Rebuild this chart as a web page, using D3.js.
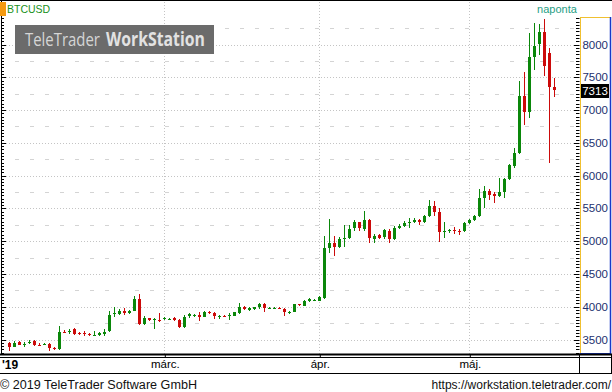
<!DOCTYPE html>
<html><head><meta charset="utf-8">
<script src="https://cdn.jsdelivr.net/npm/d3@7"></script>
<style>html,body{margin:0;padding:0;background:#fff;}svg{display:block;}</style>
</head><body>
<svg id="c" width="612" height="392"></svg>
<script>
// ---- data (daily BTCUSD, from 2019-01-29) ----
const startDate = "2019-01-29";
const opens = [3442,3390,3458,3425,3442,3478,3420,3428,3432,3375,3358,3622,3625,3660,3597,3597,3590,3566,3572,3580,3625,3882,3882,3932,3907,3937,4118,3737,3825,3805,3800,
3810,3800,3825,3800,3695,3860,3865,3875,3850,3925,3910,3855,3862,3852,3865,3898,4000,3950,3960,3990,4040,3975,3978,3988,3965,3910,3925,4035,4015,4090,4095,
4090,4133,4892,4977,4916,5040,5044,5206,5288,5186,5323,5033,5090,5058,5155,5033,5206,5236,5284,5288,5323,5297,5384,5537,5440,5150,5165,5175,5160,5155,
5272,5323,5384,5663,5766,5720,5694,5755,5944,6151,6340,7214,6975,7814,8003,8195,7875,7347];
const highs = [3467,3470,3480,3455,3490,3490,3445,3445,3445,3385,3700,3640,3660,3680,3620,3625,3600,3625,3610,3660,3935,4000,3960,3980,3950,4165,4195,3860,3835,3835,3909,
3840,3830,3840,3810,3875,3900,3895,3925,3935,3935,3925,3880,3870,3910,3925,4050,4010,4000,3995,4050,4060,3995,3995,3995,3985,3935,4045,4045,4100,4135,4120,
4160,5080,5338,5079,5060,5247,5240,5320,5300,5460,5340,5110,5110,5190,5190,5230,5260,5310,5350,5350,5335,5400,5628,5610,5510,5288,5190,5222,5185,5290,
5340,5400,5796,5842,5790,5755,5960,5960,6180,6417,7443,7585,8170,8333,8313,8389,7942,7484];
const lows = [3330,3380,3410,3385,3430,3395,3410,3418,3330,3345,3340,3600,3580,3565,3565,3555,3555,3560,3560,3560,3615,3850,3870,3870,3895,3930,3720,3720,3780,3660,3760,
3790,3790,3775,3680,3680,3830,3850,3775,3840,3890,3815,3810,3840,3790,3855,3890,3950,3940,3950,3960,3925,3965,3968,3960,3865,3895,3915,4010,4005,4065,4080,
4080,4120,4820,4778,4900,4906,5030,5160,5150,5160,4977,4970,5040,5040,4968,5020,5180,5220,5196,5270,5240,5270,5370,5380,4992,5053,5130,5105,5094,5140,
5260,5310,5370,5511,5628,5578,5680,5654,5930,6112,6330,6772,6874,7611,7840,7520,6188,7204];
const closes = [3390,3452,3417,3438,3467,3417,3414,3435,3375,3358,3620,3607,3637,3580,3582,3582,3582,3572,3595,3620,3870,3898,3932,3898,3937,4118,3737,3835,3790,3812,3783,
3825,3815,3800,3695,3850,3885,3880,3845,3915,3898,3860,3865,3850,3870,3915,4000,3960,3985,3990,4040,3975,3985,3988,3972,3915,3925,4035,4020,4090,4118,4110,
4145,4896,4977,4916,5029,5048,5181,5288,5206,5323,5053,5080,5053,5170,5033,5206,5231,5282,5292,5323,5288,5384,5537,5450,5145,5160,5175,5165,5150,5282,
5323,5384,5654,5766,5705,5694,5745,5944,6162,6340,7214,6975,7805,7977,8195,7672,7356,7313];
const yTicks = [3500,4000,4500,5000,5500,6000,6500,7000,7500,8000];
const monthTicks = ["2019-03-01","2019-04-01","2019-05-01"];
const monthLabels = ["márc.","ápr.","máj."];
const yearLabel = "'19";
const symbol = "BTCUSD";
const period = "naponta";
const lastPrice = "7313";

// ---- layout ----
const svg = d3.select("#c");
const W = 612, H = 392;
const plotL = 0, plotR = 579, plotT = 2, plotB = 354;
const DAY = 864e5;
const t0 = Date.parse(startDate + "T00:00:00Z");
const x = d3.scaleUtc().domain([new Date(t0 - 1.86*DAY), new Date(t0 + 113.94*DAY)]).range([plotL, plotR]);
const y = d3.scaleLinear().domain([3500, 8000]).range([339.5, 44.5]);
const vTop = y.invert(plotT), vBot = y.invert(plotB);

const dates = d3.utcDay.range(new Date(t0), new Date(t0 + closes.length*DAY));
const data = dates.map((d,i)=>({d, o:opens[i], h:highs[i], l:lows[i], c:closes[i]}));

svg.append("rect").attr("width",W).attr("height",H).attr("fill","#fff");

// grid
const g = svg.append("g");
const dashedVals = d3.range(3250, 8500, 500).filter(v => v>vBot && v<vTop);
g.selectAll("line.dash").data(dashedVals).join("line")
  .attr("x1", 15).attr("x2", plotR).attr("y1", d=>Math.round(y(d))+0.5).attr("y2", d=>Math.round(y(d))+0.5)
  .attr("stroke","#d4d4d4").attr("stroke-dasharray","4,11");
g.selectAll("line.dot").data(yTicks).join("line")
  .attr("x1", 3).attr("x2", plotR).attr("y1", d=>Math.round(y(d))+0.5).attr("y2", d=>Math.round(y(d))+0.5)
  .attr("stroke","#c4c4c4").attr("stroke-dasharray","1,2");
g.selectAll("line.vdot").data(monthTicks).join("line")
  .attr("x1", d=>Math.round(x(new Date(d+"T00:00:00Z")))+0.5).attr("x2", d=>Math.round(x(new Date(d+"T00:00:00Z")))+0.5)
  .attr("y1", plotT).attr("y2", plotB)
  .attr("stroke","#c4c4c4").attr("stroke-dasharray","1,2");

// candles
const up = "#0a870a", down = "#cc0a0a";
const cg = svg.append("g");
cg.selectAll("line.wick").data(data).join("line")
  .attr("x1", d=>Math.round(x(d.d))+0.5).attr("x2", d=>Math.round(x(d.d))+0.5)
  .attr("y1", d=>Math.round(y(d.h))).attr("y2", d=>Math.round(y(d.l)))
  .attr("stroke", d=> d.c>=d.o ? up : down).attr("stroke-width",1);
cg.selectAll("rect.body").data(data).join("rect")
  .attr("x", d=>Math.round(x(d.d))-1).attr("width",3)
  .attr("y", d=>Math.round(y(Math.max(d.o,d.c))))
  .attr("height", d=>Math.max(1, Math.round(y(Math.min(d.o,d.c))) - Math.round(y(Math.max(d.o,d.c)))))
  .attr("fill", d=> d.c>=d.o ? up : down);

// left axis line + ticks
const minorVals = d3.range(3300, 8700, 50).filter(v => v>vBot && v<vTop);
svg.append("line").attr("x1",1.5).attr("x2",1.5).attr("y1",0).attr("y2",plotB).attr("stroke","#000");
svg.append("g").selectAll("line").data(minorVals).join("line")
  .attr("x1",1.5).attr("x2", d=> d%500===0 ? 6 : 4)
  .attr("y1", d=>Math.round(y(d))+0.5).attr("y2", d=>Math.round(y(d))+0.5).attr("stroke","#000");

// right axis panel
svg.append("rect").attr("x",580).attr("y",17).attr("width",30).attr("height",336).attr("fill","#fff");
svg.append("line").attr("x1",580.5).attr("x2",580.5).attr("y1",17).attr("y2",354).attr("stroke","#f0c030");
svg.append("line").attr("x1",580).attr("x2",610).attr("y1",17.5).attr("y2",17.5).attr("stroke","#f0c030");
svg.append("line").attr("x1",610.5).attr("x2",610.5).attr("y1",17).attr("y2",354).attr("stroke","#1838c8").attr("stroke-width",1.5);
svg.append("line").attr("x1",580).attr("x2",611).attr("y1",353.5).attr("y2",353.5).attr("stroke","#1838c8");
svg.append("g").selectAll("line").data(minorVals.filter(v=>y(v)>18)).join("line")
  .attr("x1", d=> d%500===0 ? 574 : 576).attr("x2",579.5)
  .attr("y1", d=>Math.round(y(d))+0.5).attr("y2", d=>Math.round(y(d))+0.5).attr("stroke","#000");
svg.append("g").selectAll("text").data(yTicks).join("text")
  .attr("x",608).attr("y", d=>y(d)+4).attr("text-anchor","end")
  .attr("font-family","'Liberation Sans', Arial, sans-serif").attr("font-size","11.5px")
  .attr("fill","#1c2f6e").text(d=>d);

// last price label
const lp = y(+lastPrice);
svg.append("rect").attr("x",581).attr("y",Math.round(lp)-6).attr("width",28).attr("height",14).attr("fill","#000");
svg.append("text").attr("x",595).attr("y",Math.round(lp)+5).attr("text-anchor","middle")
  .attr("font-family","'Liberation Sans', Arial, sans-serif").attr("font-size","11.5px").attr("fill","#fff").text(lastPrice);

// x axis band
svg.append("line").attr("x1",0).attr("x2",612).attr("y1",354.5).attr("y2",354.5).attr("stroke","#000").attr("stroke-width",2);
svg.append("line").attr("x1",0).attr("x2",612).attr("y1",357.5).attr("y2",357.5).attr("stroke","#000");
svg.append("line").attr("x1",0).attr("x2",612).attr("y1",373.5).attr("y2",373.5).attr("stroke","#000");
svg.append("line").attr("x1",579.5).attr("x2",579.5).attr("y1",354).attr("y2",374).attr("stroke","#000");
svg.append("line").attr("x1",611.5).attr("x2",611.5).attr("y1",354).attr("y2",374).attr("stroke","#000");
const xa = d3.axisBottom(x).tickValues(monthTicks.map(d=>new Date(d+"T00:00:00Z")))
  .tickFormat((d,i)=>monthLabels[i]).tickSize(3).tickPadding(5);
const xg = svg.append("g").attr("transform","translate(0.5,354)").call(xa);
xg.select(".domain").remove();
xg.selectAll(".tick line").attr("stroke","#000");
xg.selectAll(".tick text").attr("font-family","'Liberation Sans', Arial, sans-serif").attr("font-size","11.5px").attr("fill","#000").attr("dy","0.55em");
svg.append("text").attr("x",2).attr("y",369).attr("font-family","'Liberation Sans', Arial, sans-serif")
  .attr("font-size","12px").attr("font-weight","bold").attr("fill","#000").text(yearLabel);

// top border
svg.append("line").attr("x1",0).attr("x2",612).attr("y1",0.5).attr("y2",0.5).attr("stroke","#000");

// symbol + period
svg.append("rect").attr("x",0).attr("y",2).attr("width",6).attr("height",14).attr("fill","#f59a10");
svg.append("text").attr("x",7).attr("y",13).attr("font-family","'Liberation Sans', Arial, sans-serif")
  .attr("font-size","10.5px").attr("fill","#17901a").text(symbol);
svg.append("text").attr("x",557).attr("y",13).attr("text-anchor","middle").attr("font-family","'Liberation Sans', Arial, sans-serif")
  .attr("font-size","11px").attr("fill","#1f9e84").text(period);

// logo (texts horizontally scaled to fit their slots)
svg.append("rect").attr("x",15).attr("y",25).attr("width",199).attr("height",29).attr("fill","#6b6b6b");
function logoText(str, x0, target, bold, fill){
  const t = svg.append("text").attr("x",0).attr("y",0).attr("font-family","'Open Sans', sans-serif")
    .attr("font-size","19px").attr("font-weight", bold ? "bold" : "normal").attr("fill",fill).text(str);
  const w = t.node().getComputedTextLength();
  t.attr("transform", `translate(${x0},46) scale(${target/w},1)`);
}
logoText("TeleTrader", 25, 75, false, "#d6d6d6");
logoText("WorkStation", 106, 99, true, "#e2e2e2");

// footer
svg.append("text").attr("x",0).attr("y",389).attr("font-family","'Liberation Sans', Arial, sans-serif")
  .attr("font-size","12.5px").attr("fill","#111").attr("textLength",197).attr("lengthAdjust","spacingAndGlyphs")
  .text("© 2019 TeleTrader Software GmbH");
svg.append("text").attr("x",611).attr("y",389).attr("text-anchor","end").attr("font-family","'Liberation Sans', Arial, sans-serif")
  .attr("font-size","12px").attr("fill","#111")
  .text("https://workstation.teletrader.com/");
</script>
</body></html>
